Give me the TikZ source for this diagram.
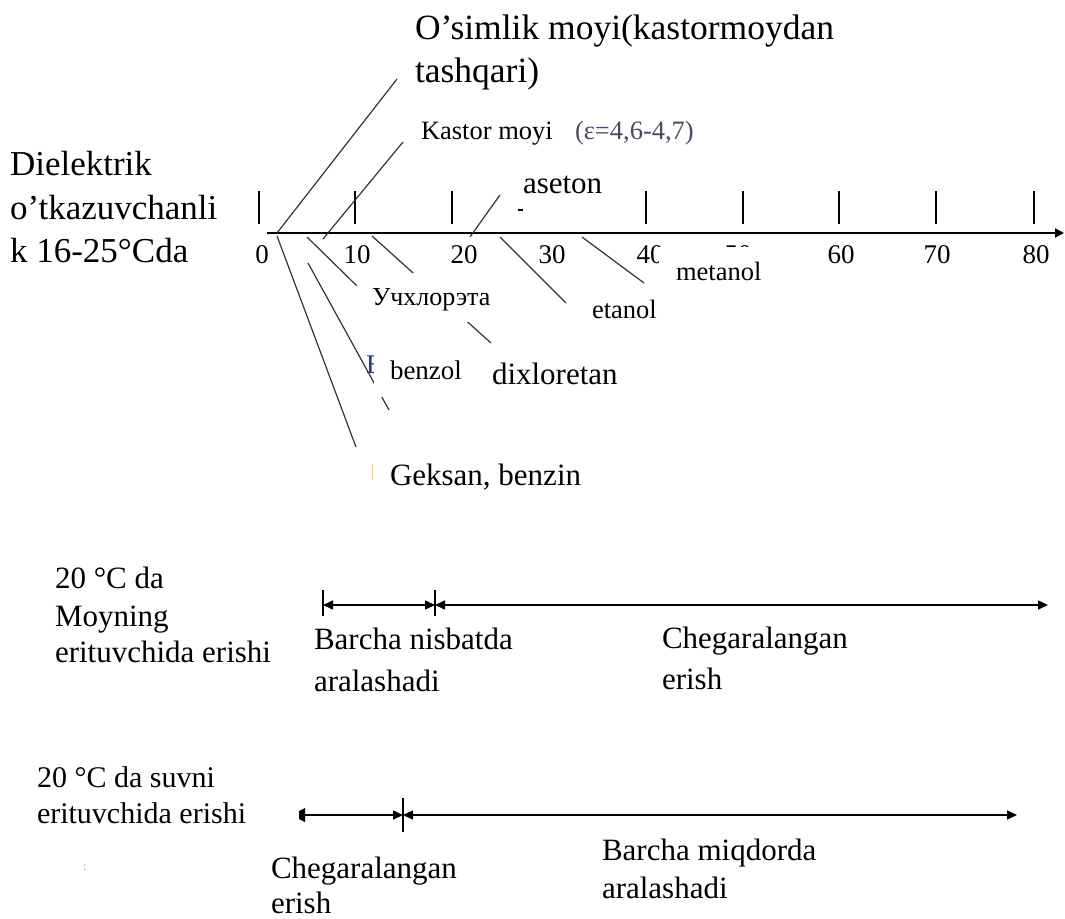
\documentclass[tikz,border=0pt]{standalone}
\usepackage{fontspec}
\setmainfont{Liberation Serif}
\usetikzlibrary{arrows.meta}
\newcommand\myfs[1]{\fontsize{#1}{#1}\selectfont}
\definecolor{fragblue}{RGB}{40,50,140}
\definecolor{epsgray}{RGB}{80,70,100}
\begin{document}
\begin{tikzpicture}[x=1pt,y=-1pt,
  txt/.style={anchor=base west, inner sep=0pt, outer sep=0pt},
  ctr/.style={anchor=base, inner sep=0pt, outer sep=0pt},
  lead/.style={line width=1.2pt, black!80},
  tickmark/.style={line width=1.8pt},
  dim/.style={line width=1.5pt, {Triangle[length=10pt,width=9pt]}-{Triangle[length=10pt,width=9pt]}},
  barline/.style={line width=1.5pt},
  cover/.style={fill=white}]
\path[use as bounding box] (0,0) rectangle (1065,918);

% left label
\node[txt,font=\myfs{35}] (d1) at (10,175) {Dielektrik};
\node[txt,font=\myfs{35}] (d2) at (10,219) {o’tkazuvchanli};
\node[txt,font=\myfs{35}] (d3) at (10,262) {k 16-25°Cda};

% axis
\coordinate (ax0) at (267,233);
\coordinate (ax1) at (1064,233);
\draw[line width=1.8pt,-{Triangle[length=9pt,width=9pt]}] (ax0) -- (ax1);
\foreach \x in {259,355,452,646,743,839,936,1034} \draw[tickmark] (\x,191)--(\x,224);
\foreach \x/\t/\n in {262/0/l0, 357/10/l10, 464/20/l20, 552/30/l30, 650/40/l40, 738/50/l50, 841/60/l60, 937/70/l70, 1036/80/l80}
  \node[ctr,font=\myfs{27}] (\n) at (\x,263) {\t};

% leader lines
\coordinate (pA0) at (277,233); \coordinate (pA1) at (397,79);
\coordinate (pB0) at (323,239); \coordinate (pB1) at (403,142);
\coordinate (pC0) at (470,237); \coordinate (pC1) at (500,195);
\coordinate (pG0) at (277,236); \coordinate (pG1) at (356,447);
\coordinate (pU0) at (307,237); \coordinate (pU1) at (357,286);
\coordinate (pX0) at (372,236); \coordinate (pX1) at (491,343);
\coordinate (pZ0) at (308,263); \coordinate (pZ1) at (389,410);
\coordinate (pE0) at (500,237); \coordinate (pE1) at (566,303);
\coordinate (pM0) at (582,237); \coordinate (pM1) at (644,283);
\foreach \a/\b in {pA0/pA1,pB0/pB1,pC0/pC1,pG0/pG1,pU0/pU1,pX0/pX1,pZ0/pZ1,pE0/pE1,pM0/pM1}
  \draw[lead] (\a) -- (\b);

% fragments under covers
\node[txt,font=\myfs{27},text=fragblue] (bfrag) at (366,373) {B};

% white covers
\fill[cover] (659,247) rectangle (775,292);
\fill[cover] (357,273) rectangle (505,322);
\fill[cover] (374,350) rectangle (470,397);
\fill[cover] (374,455) rectangle (595,495);

% labels
\node[txt,font=\myfs{35.5}] (os1) at (415,39) {O’simlik moyi(kastormoydan};
\node[txt,font=\myfs{35.5}] (os2) at (415,82) {tashqari)};
\node[txt,font=\myfs{26.5}] (kas) at (421,139) {Kastor moyi};
\node[txt,font=\myfs{26.5},text=epsgray] (eps) at (575,139) {(ε=4,6-4,7)};
\node[txt,font=\myfs{31}] (ase) at (523,193) {aseton};
\draw[line width=1.2pt] (518,210) -- (523,210);
\node[txt,font=\myfs{26}] (uch) at (372,305) {Учхлорэта};
\node[txt,font=\myfs{26.5}] (eta) at (592,318) {etanol};
\node[txt,font=\myfs{26.5}] (met) at (676,280) {metanol};
\node[txt,font=\myfs{27}] (ben) at (390,379) {benzol};
\node[txt,font=\myfs{31}] (dix) at (492,384) {dixloretan};
\node[txt,font=\myfs{31}] (gek) at (390,485) {Geksan, benzin};
\draw[line width=1pt,orange!50] (372,464) -- (372,480);

% upper dimension
\node[txt,font=\myfs{31}] (t1) at (55,588) {20 °C da};
\node[txt,font=\myfs{31}] (t2) at (55,626) {Moyning};
\node[txt,font=\myfs{31}] (t3) at (55,662) {erituvchida erishi};
\coordinate (u0) at (323,605); \coordinate (u1) at (435,605); \coordinate (u2) at (1048,605);
\draw[barline] (323,590) -- (323,616);
\draw[barline] (435,590) -- (435,616);
\draw[dim] (u0) -- (u1);
\draw[dim] (u1) -- (u2);
\node[txt,font=\myfs{31}] (b1) at (314,649) {Barcha nisbatda};
\node[txt,font=\myfs{31}] (b2) at (314,691) {aralashadi};
\node[txt,font=\myfs{31}] (c1) at (662,648) {Chegaralangan};
\node[txt,font=\myfs{31}] (c2) at (662,689) {erish};

% lower dimension
\node[txt,font=\myfs{30}] (s1) at (37,787) {20 °C da suvni};
\node[txt,font=\myfs{30}] (s2) at (37,823) {erituvchida erishi};
\node[txt,font=\myfs{12},text=black!40] (colon) at (83,870) {:};
\coordinate (w0) at (300,815); \coordinate (w1) at (403,815); \coordinate (w2) at (1017,815);
\fill (299,811) -- (305,808) -- (305,822) -- (299,819) -- cycle;
\draw[barline,-{Triangle[length=10pt,width=9pt]}] (w0) -- (w1);
\draw[barline] (403,798) -- (403,832);
\draw[dim] (w1) -- (w2);
\node[txt,font=\myfs{31}] (e1) at (271,878) {Chegaralangan};
\node[txt,font=\myfs{31}] (e2) at (271,913) {erish};
\node[txt,font=\myfs{31}] (m1) at (602,860) {Barcha miqdorda};
\node[txt,font=\myfs{31}] (m2) at (602,898) {aralashadi};
\end{tikzpicture}
\end{document}
